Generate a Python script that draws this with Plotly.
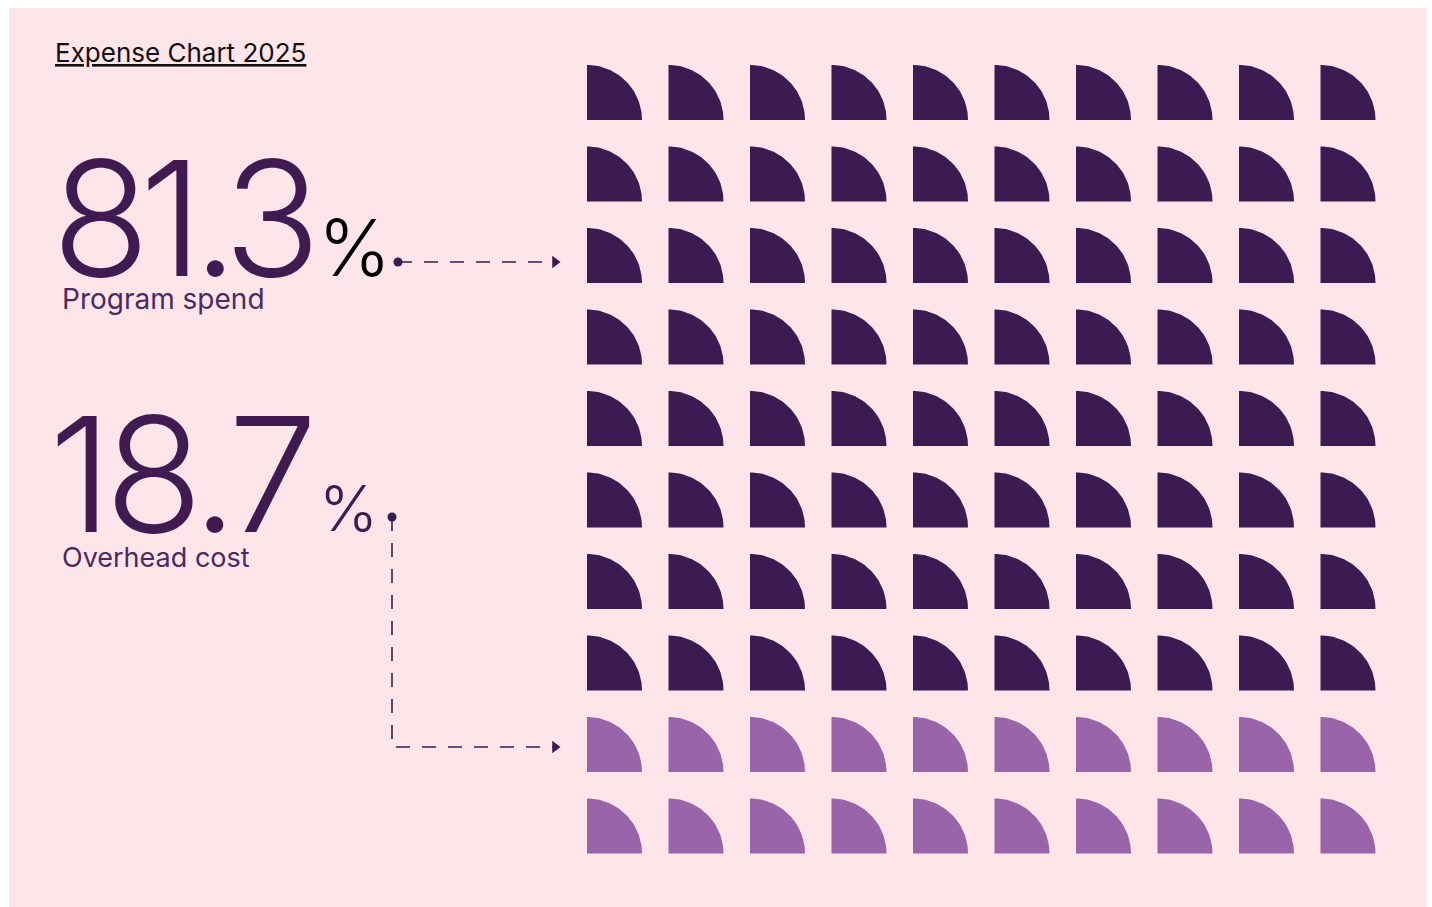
import numpy as np
import plotly.graph_objects as go

# ---- data ----
categories = ["Program spend", "Overhead cost"]
percentages = [81.3, 18.7]
cell_counts = [80, 20]          # waffle cells per category (10 x 10 grid)
title_text = "Expense Chart 2025"

# ---- style ----
W, H = 1432, 907
BG_PINK = "#fde5e9"
DARK = "#3c1a52"
LIGHT = "#9a64aa"
TEXT_PURPLE = "#421a52"
LABEL_PURPLE = "#4a2a60"
FONT = "Inter"

n_cols, n_rows = 10, 10
grid_x0, grid_y0 = 587, 65
step = 81.5
size = 55

fig = go.Figure()

# waffle of quarter circles
t = np.linspace(np.pi / 2, 0, 40)
colors = [DARK, LIGHT]
cell = 0
for ci, cnt in enumerate(cell_counts):
    xs, ys = [], []
    for _ in range(cnt):
        r, c = divmod(cell, n_cols)
        x0 = grid_x0 + c * step
        yb = grid_y0 + r * step + size
        px = [x0] + list(x0 + size * np.cos(t)) + [x0]
        py = [yb] + list(yb - size * np.sin(t)) + [yb]
        xs += px + [None]
        ys += py + [None]
        cell += 1
    fig.add_trace(go.Scatter(x=xs, y=ys, mode="lines", fill="toself",
                             fillcolor=colors[ci], line=dict(width=0, color=colors[ci]),
                             hoverinfo="skip", showlegend=False, name=categories[ci]))

# connectors
line_style = dict(color=DARK, width=1.6, dash="14px,12px")
fig.add_trace(go.Scatter(x=[398, 556], y=[262, 262], mode="lines", line=line_style,
                         hoverinfo="skip", showlegend=False))
fig.add_trace(go.Scatter(x=[392, 392, 556], y=[517, 747, 747], mode="lines", line=line_style,
                         hoverinfo="skip", showlegend=False))
fig.add_trace(go.Scatter(x=[398, 392], y=[262, 517], mode="markers",
                         marker=dict(size=9, color=DARK), hoverinfo="skip", showlegend=False))
fig.add_trace(go.Scatter(x=[555, 555], y=[262, 747], mode="markers",
                         marker=dict(symbol="triangle-right", size=11, color=DARK),
                         hoverinfo="skip", showlegend=False))


def tight(s, ls):
    return f'<span style="letter-spacing:{ls}px">{s}</span>'


annotations = [
    dict(x=53, y=52, text=title_text, xanchor="left", yanchor="middle",
         font=dict(family=FONT, size=26, color="#111111", lineposition="under")),
    dict(x=50, y=218, text=tight(f"{percentages[0]}", -10), xanchor="left", yanchor="middle",
         height=140,
         font=dict(family=FONT, size=160, color=TEXT_PURPLE, weight=300)),
    dict(x=316, y=247, text="%", xanchor="left", yanchor="middle",
         font=dict(family=FONT, size=78, color="#000000", weight=300)),
    dict(x=60, y=299, text=categories[0], xanchor="left", yanchor="middle",
         font=dict(family=FONT, size=28, color=LABEL_PURPLE)),
    dict(x=47, y=474, text=tight(f"{percentages[1]}", -7), xanchor="left", yanchor="middle",
         height=140,
         font=dict(family=FONT, size=160, color=TEXT_PURPLE, weight=300)),
    dict(x=317, y=508, text="%", xanchor="left", yanchor="middle",
         font=dict(family=FONT, size=63, color=TEXT_PURPLE, weight=300)),
    dict(x=60, y=557, text=categories[1], xanchor="left", yanchor="middle",
         font=dict(family=FONT, size=27, color=LABEL_PURPLE)),
]
for a in annotations:
    a.update(xref="x", yref="y", showarrow=False)

fig.update_layout(
    width=W, height=H, margin=dict(l=0, r=0, t=0, b=0),
    paper_bgcolor="white", plot_bgcolor="white",
    xaxis=dict(range=[0, W], visible=False, fixedrange=True),
    yaxis=dict(range=[H, 0], visible=False, fixedrange=True),
    shapes=[dict(type="rect", xref="x", yref="y", x0=9, x1=1427, y0=8, y1=907,
                 fillcolor=BG_PINK, line=dict(width=0), layer="below")],
    annotations=annotations,
)

fig.write_html("out.html", config={"displayModeBar": False})
